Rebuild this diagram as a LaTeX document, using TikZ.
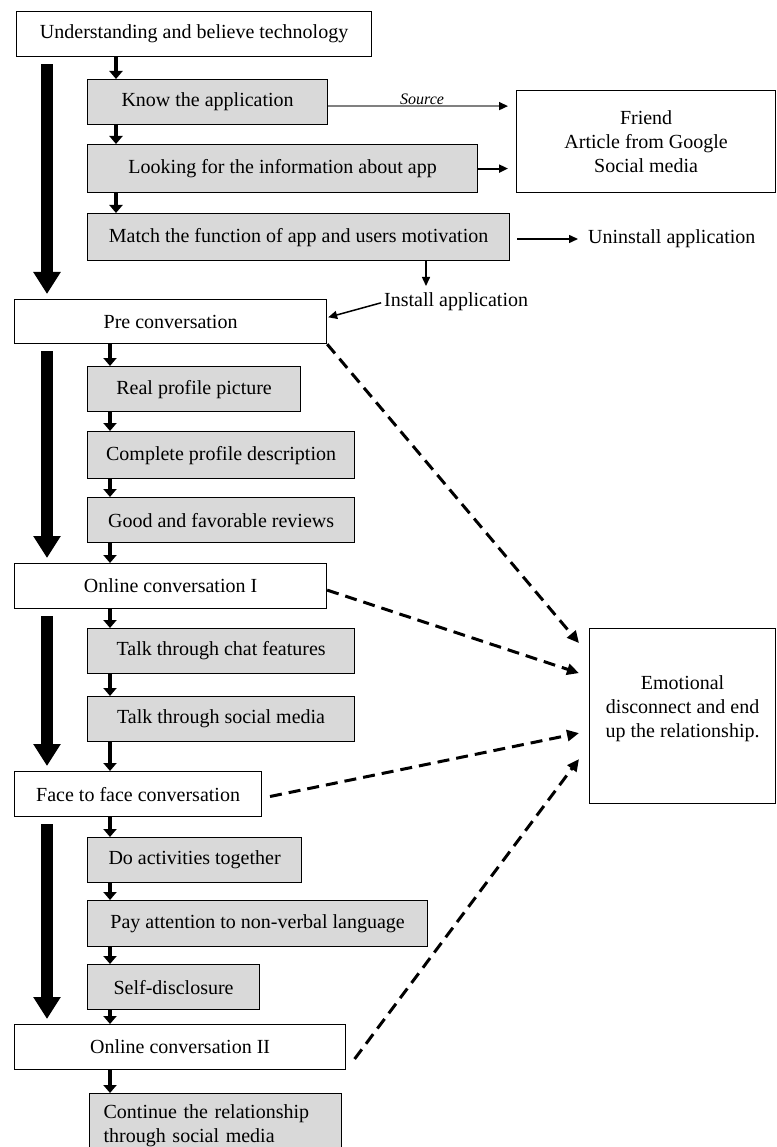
\documentclass[tikz,border=0pt]{standalone}
\usepackage{fontspec}
\setmainfont{Liberation Serif}
\usetikzlibrary{arrows.meta}

\begin{document}
\begin{tikzpicture}[x=1pt,y=-1pt,
  stage/.style={draw, line width=1.2pt, fill=white, anchor=north west, inner sep=0pt,
    font=\fontsize{20}{24}\selectfont},
  substep/.style={stage, fill=black!15},
  note/.style={inner sep=0pt, anchor=west, font=\fontsize{20}{24}\selectfont},
  bigarrow/.style={line width=12pt, -{Triangle[width=26pt,length=22pt]}},
  smallarrow/.style={line width=4.5pt, -{Triangle[width=13pt,length=8pt]}},
  thinarrow/.style={line width=1.5pt, -{Triangle[width=8pt,length=9pt]}},
  breakoff/.style={line width=3pt, dash pattern=on 12pt off 7pt,
    -{Triangle[width=11pt,length=12pt]}}]
  \useasboundingbox (0,0) rectangle (776,1147);

  % lanes for the long and the short arrows
  \coordinate (lane) at (47,0);
  \coordinate (tick) at (116,0);
  \coordinate (tock) at (110,0);

  % stage 1: technology
  \node[stage, minimum width=355pt, minimum height=45pt] (tech) at (16,11) {Understanding and believe technology};
  \node[substep, minimum width=240pt, minimum height=45pt] (know) at (87,79) {Know the application};
  \node[substep, minimum width=390pt, minimum height=48pt] (look) at (87,144) {Looking for the information about app};
  \node[substep, minimum width=422pt, minimum height=47pt] (match) at (87,213) {Match the function of app and users motivation};
  \node[stage, minimum width=259pt, minimum height=102pt, align=center] (friend) at (516,90) {Friend\\Article from Google\\Social media};
  \node[note] (uninst) at (588,239) {Uninstall application};
  \node[note] (install) at (384,302) {Install application};
  \coordinate (fork) at (426,286);

  % stage 2: pre conversation
  \node[stage, minimum width=312pt, minimum height=44pt] (pre) at (14,299) {Pre conversation};
  \node[substep, minimum width=213pt, minimum height=45pt] (real) at (87,366) {Real profile picture};
  \node[substep, minimum width=267pt, minimum height=47pt] (complete) at (87,431) {Complete profile description};
  \node[substep, minimum width=267pt, minimum height=45pt] (good) at (87,497) {Good and favorable reviews};

  % stage 3: online conversation I
  \node[stage, minimum width=312pt, minimum height=45pt] (online1) at (14,563) {Online conversation I};
  \node[substep, minimum width=267pt, minimum height=45pt] (chat) at (87,628) {Talk through chat features};
  \node[substep, minimum width=267pt, minimum height=45pt] (social) at (87,696) {Talk through social media};

  % stage 4: face to face
  \node[stage, minimum width=247pt, minimum height=45pt] (face) at (14,771) {Face to face conversation};
  \node[substep, minimum width=214pt, minimum height=45pt] (activity) at (87,837) {Do activities together};
  \node[substep, minimum width=340pt, minimum height=46pt] (attention) at (87,900) {Pay attention to non-verbal language};
  \node[substep, minimum width=172pt, minimum height=45pt] (disclose) at (87,964) {Self-disclosure};

  % stage 5: online conversation II
  \node[stage, minimum width=331pt, minimum height=45pt] (online2) at (14,1024) {Online conversation II};
  \node[substep, minimum width=252pt, minimum height=65pt, text width=224pt, inner xsep=14pt, align=left] (continue) at (89,1093) {Continue the relationship\\through social media};

  % end of the relationship
  \node[stage, minimum width=186pt, minimum height=175pt] (emo) at (589,628)
    {\raisebox{7pt}[\height][\depth]{\begin{tabular}{@{}c@{}}Emotional\\disconnect and end\\up the relationship.\end{tabular}}};

  % long arrows
  \foreach \a/\b in {tech/pre, pre/online1, online1/face, face/online2}
    \draw[bigarrow, shorten <=7pt, shorten >=5pt] (\a.south -| lane) -- (\b.north -| lane);

  % short arrows
  \foreach \a/\b in {tech/know, know/look, look/match}
    \draw[smallarrow] (\a.south -| tick) -- (\b.north -| tick);
  \foreach \a/\b in {pre/real, real/complete, complete/good, good/online1, online1/chat, chat/social, social/face,
                     face/activity, activity/attention, attention/disclose, disclose/online2, online2/continue}
    \draw[smallarrow] (\a.south -| tock) -- (\b.north -| tock);

  % source and decision
  \draw[line width=1.5pt, gray, -{Triangle[width=8pt,length=9pt,color=black]}, shorten >=8pt]
    ([yshift=-4pt]know.east) -- node[above=1pt, inner sep=0pt, black, font=\fontsize{16}{18}\itshape] {Source} ([yshift=-4pt]know.east -| friend.west);
  \draw[thinarrow, line width=2pt, shorten >=8pt] (look.east) -- (look.east -| friend.west);
  \draw[thinarrow, shorten <=7pt, shorten >=10pt] (uninst.west -| match.east) -- (uninst.west);
  \draw[thinarrow] (match.south -| fork) -- (fork);
  \draw[thinarrow, shorten <=3pt, shorten >=1pt] (install.west) -- ([yshift=4pt]pre.east);

  % dashed arrows to the end
  \draw[breakoff] (pre.south east) -- ([xshift=-10pt,yshift=73pt]emo.west);
  \draw[breakoff] ([yshift=-4pt]online1.east) -- ([xshift=-10pt,yshift=43pt]emo.west);
  \draw[breakoff, shorten <=8pt] ([yshift=-4pt]face.east) -- ([xshift=-10pt,yshift=-17pt]emo.west);
  \draw[breakoff, shorten <=14pt] (online2.south east) -- ([xshift=-10pt,yshift=-43pt]emo.west);
\end{tikzpicture}
\end{document}
